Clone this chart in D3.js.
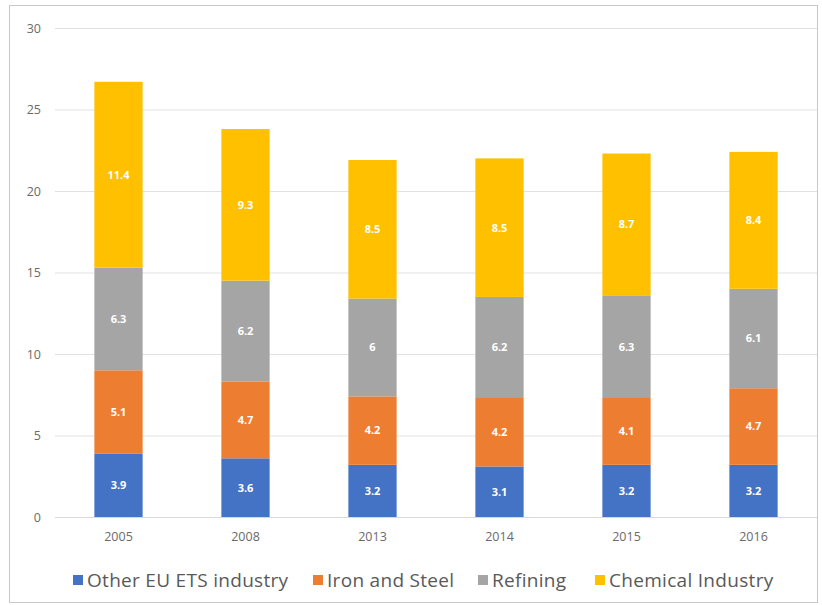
<!DOCTYPE html>
<html>
<head>
<meta charset="utf-8">
<script src="https://cdn.jsdelivr.net/npm/d3@7"></script>
<style>
  html, body { margin: 0; padding: 0; background: #fff; }
  svg { display: block; }
</style>
</head>
<body>
<svg id="chart" width="822" height="605"></svg>
<script>
// Emissions by sector, stacked per year
const years = ["2005", "2008", "2013", "2014", "2015", "2016"];
const otherEts = [3.9, 3.6, 3.2, 3.1, 3.2, 3.2];
const ironSteel = [5.1, 4.7, 4.2, 4.2, 4.1, 4.7];
const refining = [6.3, 6.2, 6, 6.2, 6.3, 6.1];
const chemical = [11.4, 9.3, 8.5, 8.5, 8.7, 8.4];
const seriesNames = ["Other EU ETS industry", "Iron and Steel", "Refining", "Chemical Industry"];
const seriesColors = ["#4472C4", "#ED7D31", "#A5A5A5", "#FFC000"];
const yTicks = [0, 5, 10, 15, 20, 25, 30];

const seriesValues = [otherEts, ironSteel, refining, chemical];
const keys = ["s0", "s1", "s2", "s3"];
const rows = years.map((y, i) => {
  const r = { year: y };
  keys.forEach((k, j) => r[k] = seriesValues[j][i]);
  return r;
});

const svg = d3.select("#chart");
const margin = { left: 55, right: 5, top: 28, bottom: 88 };
const W = 822, H = 605;
const font = "'Open Sans', 'DejaVu Sans', sans-serif";

// outer frame
svg.append("rect")
  .attr("x", 9.5).attr("y", 5.5)
  .attr("width", 808).attr("height", 597)
  .attr("fill", "none").attr("stroke", "#c8c8c8").attr("stroke-width", 1);

const x = d3.scaleBand().domain(years)
  .range([margin.left, W - margin.right])
  .paddingInner(0.62).paddingOuter(0.31);
const y = d3.scaleLinear().domain([0, 30]).range([H - margin.bottom, margin.top]);

// grid lines and y tick labels
const yAxis = d3.axisLeft(y).tickValues(yTicks)
  .tickSize(-(W - margin.right - margin.left)).tickPadding(14);
const gy = svg.append("g").attr("transform", `translate(${margin.left},0)`).call(yAxis);
gy.select(".domain").remove();
gy.selectAll(".tick line").attr("stroke", "#e2e2e2").attr("stroke-width", 1);
gy.selectAll(".tick text")
  .attr("fill", "#6a6a6a").attr("font-size", 12.5)
  .attr("font-family", font);

const stacked = d3.stack().keys(keys)(rows);

const groups = svg.append("g").selectAll("g")
  .data(stacked).join("g")
  .attr("fill", (d, i) => seriesColors[i]);

groups.selectAll("rect")
  .data(d => d.map(p => ({ p, key: d.key })))
  .join("rect")
  .attr("x", d => x(d.p.data.year))
  .attr("width", x.bandwidth())
  .attr("y", d => y(d.p[1]))
  .attr("height", d => y(d.p[0]) - y(d.p[1]));

// value labels
groups.selectAll("text")
  .data(d => d.map(p => ({ p, key: d.key })))
  .join("text")
  .attr("x", d => x(d.p.data.year) + x.bandwidth() / 2)
  .attr("y", d => (y(d.p[0]) + y(d.p[1])) / 2)
  .attr("dy", "0.35em")
  .attr("text-anchor", "middle")
  .attr("fill", "#ffffff")
  .attr("font-weight", "bold")
  .attr("font-size", 11)
  .attr("font-family", font)
  .text(d => d.p.data[d.key]);

// baseline
svg.append("line")
  .attr("x1", margin.left).attr("x2", W - margin.right)
  .attr("y1", y(0) + 0.5).attr("y2", y(0) + 0.5)
  .attr("stroke", "#d9d9d9");

// x axis labels
const xAxis = d3.axisBottom(x).tickSize(0).tickPadding(15);
const gx = svg.append("g").attr("transform", `translate(0,${y(0)})`).call(xAxis);
gx.select(".domain").remove();
gx.selectAll(".tick text")
  .attr("fill", "#6a6a6a").attr("font-size", 12.5)
  .attr("font-family", font);

// legend
const legendX = [73, 313, 478, 595];
const legend = svg.append("g").selectAll("g")
  .data(seriesNames).join("g")
  .attr("transform", (d, i) => `translate(${legendX[i]},580)`);
legend.append("rect")
  .attr("x", 0).attr("y", -5).attr("width", 10).attr("height", 10)
  .attr("fill", (d, i) => seriesColors[i]);
legend.append("text")
  .attr("x", 14).attr("y", 0).attr("dy", "0.35em")
  .attr("fill", "#595959").attr("font-size", 19)
  .attr("letter-spacing", 0.3)
  .attr("font-family", font)
  .text(d => d);
</script>
</body>
</html>
